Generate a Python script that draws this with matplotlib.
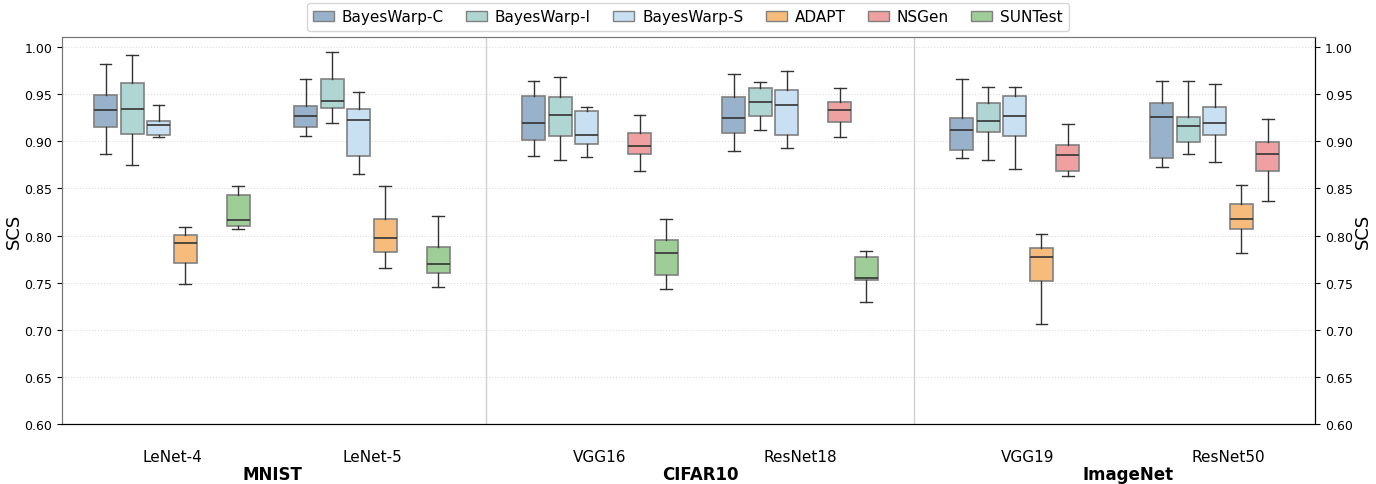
import matplotlib
matplotlib.use("Agg")
import matplotlib.pyplot as plt
from matplotlib.patches import Patch

methods = ["BayesWarp-C", "BayesWarp-I", "BayesWarp-S", "ADAPT", "NSGen", "SUNTest"]
colors = ["#98b2cc", "#afd6d2", "#c8e0f1", "#f7bc7c", "#efa0a0", "#9fcd97"]
models = ["LeNet-4", "LeNet-5", "VGG16", "ResNet18", "VGG19", "ResNet50"]
datasets = ["MNIST", "CIFAR10", "ImageNet"]

# (whislo, q1, med, q3, whishi); None = method not evaluated
lenet4 = [(0.887, 0.915, 0.933, 0.949, 0.982), (0.875, 0.908, 0.934, 0.962, 0.991),
          (0.905, 0.907, 0.917, 0.922, 0.939), (0.749, 0.771, 0.792, 0.801, 0.809),
          None, (0.807, 0.810, 0.816, 0.843, 0.853)]
lenet5 = [(0.906, 0.915, 0.927, 0.937, 0.966), (0.919, 0.935, 0.943, 0.966, 0.995),
          (0.865, 0.884, 0.923, 0.934, 0.952), (0.765, 0.783, 0.797, 0.818, 0.853),
          None, (0.745, 0.760, 0.770, 0.788, 0.821)]
vgg16 = [(0.884, 0.901, 0.919, 0.948, 0.964), (0.880, 0.906, 0.928, 0.947, 0.968),
         (0.883, 0.897, 0.907, 0.932, 0.936), None,
         (0.868, 0.887, 0.895, 0.909, 0.928), (0.743, 0.758, 0.781, 0.795, 0.817)]
resnet18 = [(0.890, 0.909, 0.925, 0.947, 0.971), (0.912, 0.927, 0.942, 0.957, 0.963),
            (0.893, 0.907, 0.938, 0.954, 0.975), None,
            (0.905, 0.920, 0.933, 0.942, 0.957), (0.729, 0.753, 0.755, 0.777, 0.784)]
vgg19 = [(0.882, 0.891, 0.912, 0.925, 0.966), (0.880, 0.910, 0.921, 0.941, 0.958),
         (0.871, 0.906, 0.927, 0.948, 0.958), (0.706, 0.752, 0.777, 0.787, 0.802),
         (0.863, 0.868, 0.885, 0.896, 0.918), None]
resnet50 = [(0.873, 0.882, 0.926, 0.941, 0.964), (0.887, 0.899, 0.916, 0.926, 0.964),
            (0.878, 0.907, 0.919, 0.936, 0.961), (0.781, 0.807, 0.818, 0.833, 0.854),
            (0.837, 0.868, 0.886, 0.899, 0.924), None]
all_stats = [lenet4, lenet5, vgg16, resnet18, vgg19, resnet50]

yticks = [0.60, 0.65, 0.70, 0.75, 0.80, 0.85, 0.90, 0.95, 1.00]

fig = plt.figure(figsize=(13.76, 4.85), dpi=100)
ax = fig.add_axes([0.045, 0.1237, 0.9107, 0.7979])

group_gap = 0.14
slot = 0.1325
centers = [i + (i // 2) * group_gap for i in range(len(models))]

for mi, stats in enumerate(all_stats):
    for j, st in enumerate(stats):
        if st is None:
            continue
        lo, q1, med, q3, hi = st
        pos = centers[mi] + (j - 2.5) * slot
        ax.bxp([dict(whislo=lo, q1=q1, med=med, q3=q3, whishi=hi, fliers=[])],
               positions=[pos], widths=slot * 0.87, patch_artist=True, showfliers=False,
               boxprops=dict(facecolor=colors[j], edgecolor="#808080", linewidth=1.2),
               medianprops=dict(color="#333333", linewidth=1.2),
               whiskerprops=dict(color="#333333", linewidth=1.0),
               capprops=dict(color="#333333", linewidth=1.0), zorder=3)

for k in range(1, len(datasets)):
    xsep = (centers[2 * k - 1] + centers[2 * k]) / 2
    ax.axvline(xsep, color="#d0d0d0", linewidth=1.0, zorder=1)

ax.set_xlim(-0.55, centers[-1] + 0.435)
ax.set_ylim(0.60, 1.0106)
ax.set_yticks(yticks)
ax.set_yticklabels([f"{v:.2f}" for v in yticks], fontsize=9)
ax.yaxis.grid(True, linestyle=":", color="#dddddd", linewidth=0.8)
ax.set_axisbelow(True)
ax.set_xticks(centers)
ax.set_xticklabels(models, fontsize=11)
ax.tick_params(axis="x", length=0, pad=18)
ax.set_ylabel("SCS", fontsize=13, labelpad=1)

ax2 = ax.twinx()
ax2.set_ylim(ax.get_ylim())
ax2.set_yticks(yticks)
ax2.set_yticklabels([f"{v:.2f}" for v in yticks], fontsize=9)
ax2.set_ylabel("SCS", fontsize=13, labelpad=1)

for sp in ["left", "top"]:
    ax.spines[sp].set_color("#777777")
    ax2.spines[sp].set_color("#777777")
for sp in ["right", "bottom"]:
    ax.spines[sp].set_color("black")
    ax2.spines[sp].set_color("black")

for k, ds in enumerate(datasets):
    xc = (centers[2 * k] + centers[2 * k + 1]) / 2
    ax.text(xc, -0.13, ds, transform=ax.get_xaxis_transform(), ha="center", va="center",
            fontsize=12, fontweight="bold")

handles = [Patch(facecolor=c, edgecolor="#808080", label=m) for m, c in zip(methods, colors)]
fig.legend(handles=handles, loc="center", bbox_to_anchor=(0.4997, 0.963), ncol=6,
           fontsize=11, frameon=True, edgecolor="#cccccc", columnspacing=1.45,
           handlelength=1.4, handletextpad=0.5)

fig.savefig("out.png", dpi=100)
